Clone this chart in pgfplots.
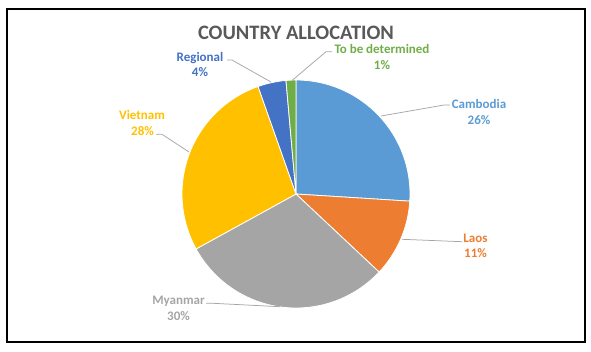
\documentclass[border=0pt]{standalone}
\usepackage{fontspec}
\setmainfont{Carlito}
\usepackage{pgfplots}
\usepackage{pgfplotstable}
\pgfplotsset{compat=1.18}
\definecolor{cCam}{HTML}{5B9BD5}
\definecolor{cLaos}{HTML}{ED7D31}
\definecolor{cMya}{HTML}{A5A5A5}
\definecolor{cViet}{HTML}{FFC000}
\definecolor{cReg}{HTML}{4472C4}
\definecolor{cTBD}{HTML}{70AD47}
\definecolor{cTitle}{HTML}{595959}
\definecolor{cLead}{HTML}{A6A6A6}

% share of each country (clockwise from 12 o'clock)
\pgfplotstableread{
name     value col
Cambodia 26    cCam
Laos     11    cLaos
Myanmar  30    cMya
Vietnam  27.6  cViet
Regional 4     cReg
TBD      1.4   cTBD
}\piedata

\begin{document}
\begin{tikzpicture}
\begin{axis}[
  x=1pt, y=1pt,
  xmin=0, xmax=591, ymin=0, ymax=351,
  y dir=reverse,
  hide axis, clip=false,
]
\path (axis cs:0,0) rectangle (axis cs:591,351);
\draw[black, line width=1.1pt] (axis cs:7,9) rectangle (axis cs:585,342);

\pgfplotstablegetrowsof{\piedata}
\pgfmathtruncatemacro\nrows{\pgfplotsretval-1}
\def\cumval{0}
\pgfplotsforeachungrouped \i in {0,...,\nrows}{%
  \pgfplotstablegetelem{\i}{value}\of\piedata \let\sliceval\pgfplotsretval
  \pgfplotstablegetelem{\i}{col}\of\piedata \let\slicecol\pgfplotsretval
  \pgfmathsetmacro\angA{90-\cumval*3.6}%
  \pgfmathsetmacro\angB{90-(\cumval+\sliceval)*3.6}%
  \edef\temp{\noexpand\fill[fill=\slicecol, draw=white, line width=0.8pt, line join=round]
    (axis cs:296,194) -- ++(\angA:114pt) arc[start angle=\angA, end angle=\angB, radius=114pt] -- cycle;}%
  \temp
  \pgfmathsetmacro\cumval{\cumval+\sliceval}%
}

% leader lines
\draw[cLead, line width=0.75pt] (axis cs:381,116) -- (axis cs:444,105) -- (axis cs:450,105);
\draw[cLead, line width=0.75pt] (axis cs:402,239.3) -- (axis cs:462,241.7);
\draw[cLead, line width=0.75pt] (axis cs:206,303.3) -- (axis cs:213,303.3) -- (axis cs:280,306.7);
\draw[cLead, line width=0.75pt] (axis cs:156,134.3) -- (axis cs:162,134.3) -- (axis cs:189,152);
\draw[cLead, line width=0.75pt] (axis cs:227,60) -- (axis cs:232,60) -- (axis cs:271,82);
\draw[cLead, line width=0.75pt] (axis cs:332,51.7) -- (axis cs:326,51.7) -- (axis cs:292,80.5);

% title
\node[anchor=base, font=\bfseries\fontsize{20.5}{24}\selectfont, text=cTitle, inner sep=0pt]
  at (axis cs:296,39.3) {COUNTRY ALLOCATION};

% data labels
\tikzset{lab/.style={anchor=base, inner sep=0pt, font=\bfseries\fontsize{13}{15}\selectfont}}
\node[lab, text=cCam] at (axis cs:479,108.3) {Cambodia};
\node[lab, text=cCam] at (axis cs:479,124) {26\%};
\node[lab, text=cLaos] at (axis cs:475.5,242.3) {Laos};
\node[lab, text=cLaos] at (axis cs:475.5,257.3) {11\%};
\node[lab, text=cMya] at (axis cs:178.5,304) {Myanmar};
\node[lab, text=cMya] at (axis cs:178.5,320) {30\%};
\node[lab, text=cViet] at (axis cs:142,119) {Vietnam};
\node[lab, text=cViet] at (axis cs:142.5,135.3) {28\%};
\node[lab, text=cReg] at (axis cs:200,61.3) {Regional};
\node[lab, text=cReg] at (axis cs:200,76.7) {4\%};
\node[lab, text=cTBD] at (axis cs:382,53.3) {To be determined};
\node[lab, text=cTBD] at (axis cs:382,69) {1\%};
\end{axis}
\end{tikzpicture}
\end{document}
